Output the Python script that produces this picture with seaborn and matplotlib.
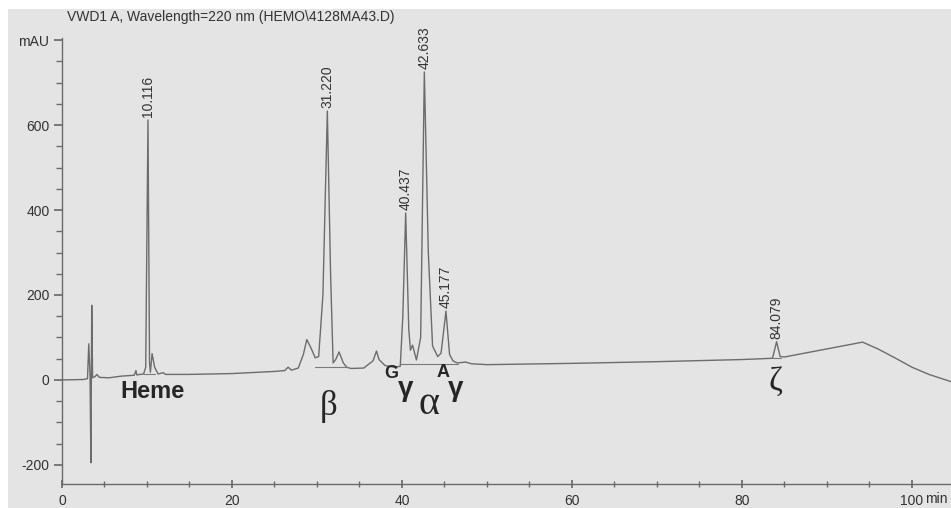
import matplotlib
matplotlib.use('Agg')
import matplotlib.pyplot as plt
import seaborn as sns
import pandas as pd
from matplotlib.patches import Rectangle
from matplotlib.ticker import MultipleLocator

# chromatogram trace (time in min, signal in mAU)
time_min = [0.0, 2.5, 3.0, 3.15, 3.3, 3.4, 3.5, 3.6, 3.9, 4.1, 4.4, 5.5, 7.0, 8.5, 8.7,
            8.8, 9.6, 9.85, 10.116, 10.3, 10.4, 10.6, 10.9, 11.3, 11.9, 12.2, 15.0, 20.0,
            25.0, 26.2, 26.6, 27.0, 27.8, 28.4, 28.8, 29.3, 29.8, 30.2, 30.7, 31.22,
            31.6, 31.9, 32.2, 32.6, 33.1, 33.5, 34.0, 35.5, 36.6, 37.0, 37.3, 37.6,
            38.0, 39.0, 39.8, 40.1, 40.437, 40.8, 41.0, 41.25, 41.7, 42.2, 42.633,
            43.1, 43.6, 44.2, 44.6, 45.177, 45.6, 46.0, 46.5, 47.5, 48.2, 50.0, 60.0,
            70.0, 80.0, 83.6, 84.079, 84.5, 85.0, 94.2, 96.0, 98.0, 100.0, 102.0, 104.6]
signal_mau = [0, 1, 3, 85, 10, -195, 176, 5, 8, 13, 6, 5, 9, 11, 22,
              12, 14, 30, 612, 40, 18, 62, 30, 14, 17, 13, 13, 15,
              20, 22, 30, 23, 28, 60, 95, 75, 52, 55, 200, 633,
              250, 40, 48, 66, 40, 30, 27, 28, 45, 68, 48, 42,
              34, 30, 32, 150, 393, 120, 70, 82, 47, 100, 725,
              300, 80, 55, 63, 162, 60, 45, 40, 42, 38, 36, 39,
              43, 48, 51, 90, 55, 54, 89, 73, 52, 30, 13, -4]

# integration baselines drawn under peak groups
base_start = [9.6, 29.8, 39.8, 83.7]
base_end = [11.0, 33.6, 46.6, 84.6]
base_level = [15, 31, 38, 51]

# retention time labels
peak_rt = [10.116, 31.220, 40.437, 42.633, 45.177, 84.079]
peak_height = [612, 633, 393, 725, 162, 90]

df = pd.DataFrame({'time': time_min, 'mAU': signal_mau})

sns.set_theme(style='ticks')
plt.rcParams['font.family'] = ['Liberation Sans', 'DejaVu Sans']

fig = plt.figure(figsize=(9.51, 5.08), dpi=100, facecolor='white')
fig.patches.append(Rectangle((8 / 951, 0), 1, 499 / 508, transform=fig.transFigure,
                             facecolor='#e4e4e4', edgecolor='none', zorder=-1))
ax = fig.add_axes([62 / 951, 24 / 508, 889 / 951, 446 / 508])
ax.set_facecolor('none')

sns.lineplot(data=df, x='time', y='mAU', ax=ax, color='#6c6c6c', linewidth=1.0,
             estimator=None, sort=False)
for t0, t1, lv in zip(base_start, base_end, base_level):
    ax.plot([t0, t1], [lv, lv], color='#7a7a7a', linewidth=0.8)

for rt, h in zip(peak_rt, peak_height):
    ax.annotate(f'{rt:.3f}', xy=(rt, h), xytext=(0, 2), textcoords='offset points',
                rotation=90, ha='center', va='bottom', fontsize=10, color='#333333')

# peak identities
ax.text(10.7, -28, 'Heme', fontsize=17, fontweight='bold', ha='center', va='center')
ax.text(31.4, -62, 'β', fontsize=25, family='Liberation Serif', ha='center', va='center')
ax.text(38.7, 16, 'G', fontsize=13, fontweight='bold', ha='center', va='center')
ax.text(40.4, -22, 'γ', fontsize=20, fontweight='bold', ha='center', va='center')
ax.text(43.2, -59, 'α', fontsize=29, family='Liberation Serif', ha='center', va='center')
ax.text(44.8, 18, 'A', fontsize=13, fontweight='bold', ha='center', va='center')
ax.text(46.3, -22, 'γ', fontsize=20, fontweight='bold', ha='center', va='center')
ax.text(84.0, -5, 'ζ', fontsize=24, family='Liberation Serif', ha='center', va='center')

ax.set_xlim(0, 104.6)
ax.set_ylim(-245, 805)
ax.set_xticks([0, 20, 40, 60, 80, 100])
ax.set_xticklabels(['0', '20', '40', '60', '80', '100'])
ax.xaxis.set_minor_locator(MultipleLocator(5))
ax.set_yticks([-200, 0, 200, 400, 600, 800])
ax.set_yticklabels(['-200', '0', '200', '400', '600', 'mAU'])
ax.yaxis.set_minor_locator(MultipleLocator(50))
ax.text(101.5, -15 / 446, 'min', transform=ax.get_xaxis_transform(), fontsize=10,
        color='#333333', ha='left', va='center')
ax.set_xlabel('')
ax.set_ylabel('')

ax.tick_params(axis='both', which='major', labelsize=10, labelcolor='#333333', color='#6a6a6a')
ax.tick_params(axis='y', which='major', length=6, pad=3)
ax.tick_params(axis='y', which='minor', length=4, color='#6a6a6a')
ax.tick_params(axis='x', which='major', direction='inout', length=6, pad=4)
ax.tick_params(axis='x', which='minor', direction='inout', length=4, color='#6a6a6a')
for side in ['top', 'right']:
    ax.spines[side].set_visible(False)
for side in ['left', 'bottom']:
    ax.spines[side].set_color('#6a6a6a')
    ax.spines[side].set_linewidth(1.0)

fig.text(67 / 951, 1 - 17 / 508, 'VWD1 A, Wavelength=220 nm (HEMO\\4128MA43.D)',
         fontsize=10, color='#333333', ha='left', va='center')

fig.savefig('out.png', dpi=100, facecolor=fig.get_facecolor())
